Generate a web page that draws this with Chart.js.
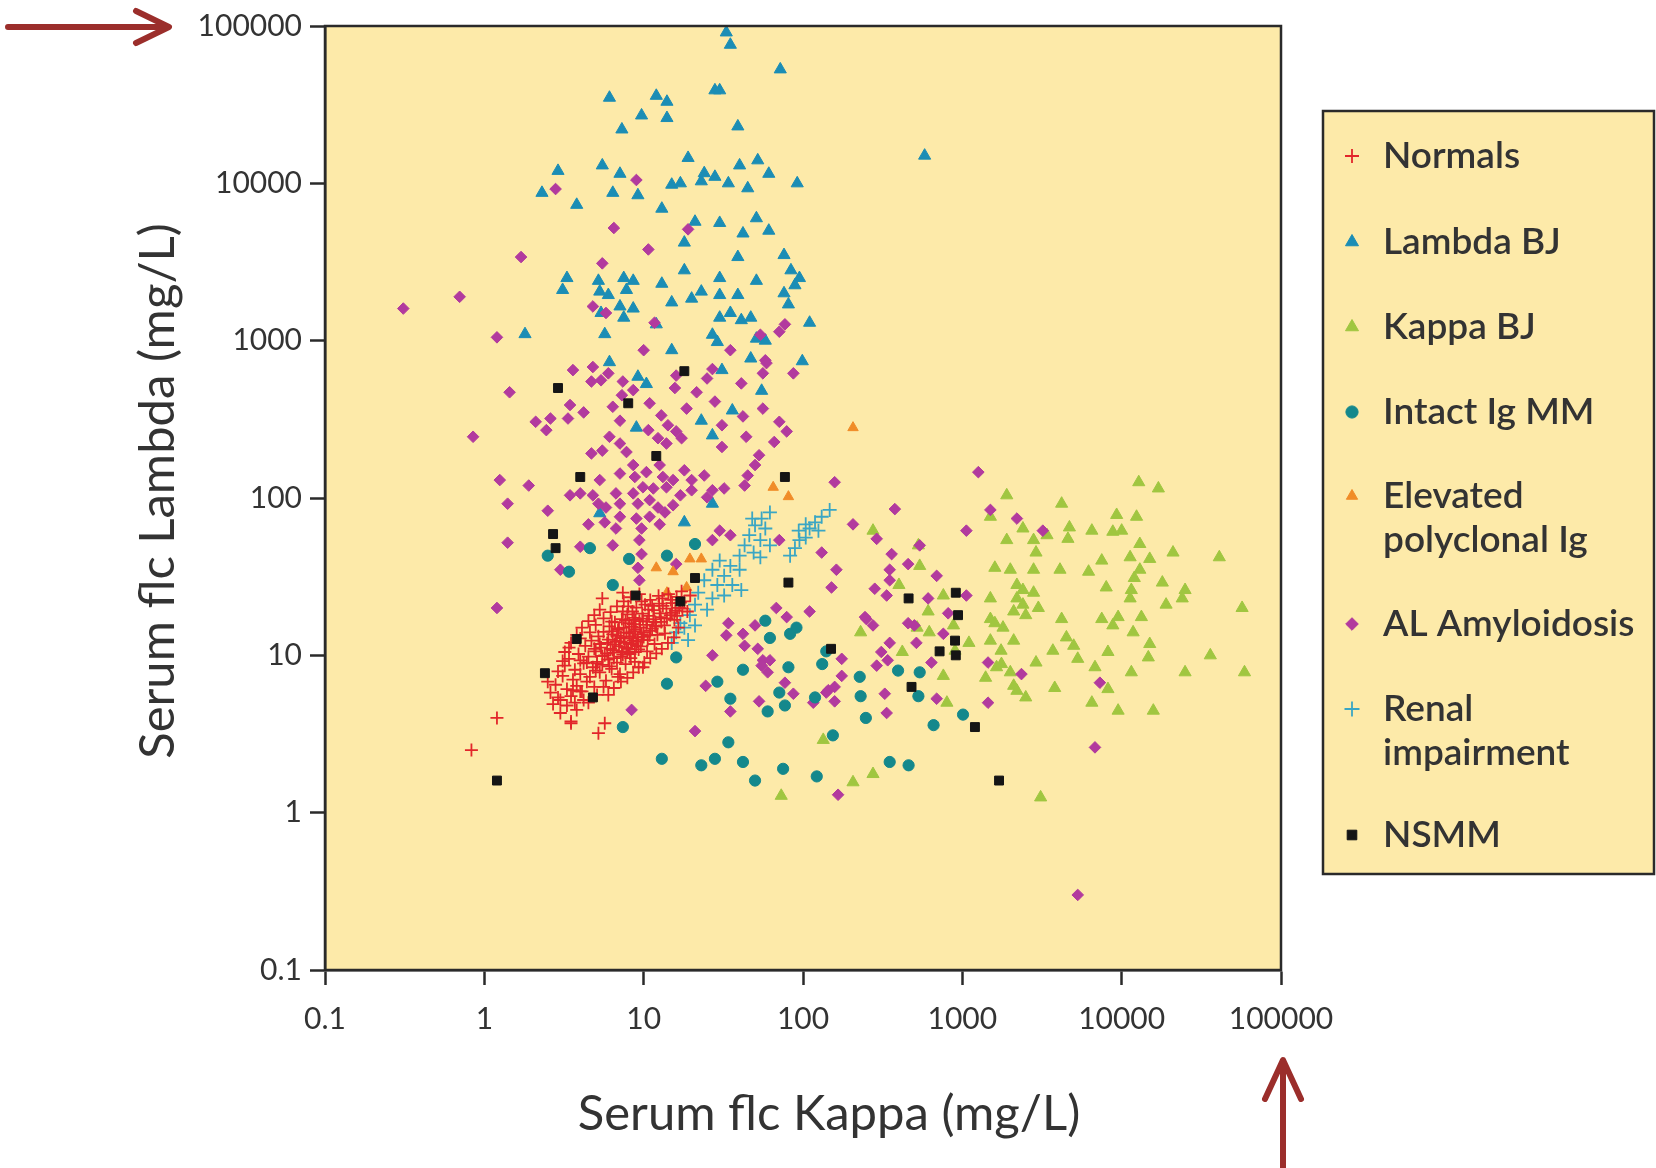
<!DOCTYPE html>
<html>
<head>
<meta charset="utf-8">
<script src="https://cdn.jsdelivr.net/npm/chart.js@4"></script>
<style>
  html, body { margin: 0; padding: 0; background: #fff; }
  #wrap { width: 1656px; height: 1168px; }
</style>
</head>
<body>
<div id="wrap"><canvas id="flc-chart" width="1656" height="1168"></canvas></div>
<script>
// decade ticks, same on both axes
const tickVals = [0.1, 1, 10, 100, 1000, 10000, 100000];

const seriesNames = ['Normals', 'Lambda BJ', 'Kappa BJ', 'Intact Ig MM', 'Elevated polyclonal Ig', 'AL Amyloidosis', 'Renal impairment', 'NSMM'];

// every point is [kappa, lambda] in mg/L
const normals = [
  [0.83, 2.5], [1.2, 4.0], [3.5, 3.7], [5.7, 3.7], [5.2, 3.2], [9.9, 8.4], [5.5, 23], [7.4, 25],
  [3.0, 4.3], [3.3, 4.8], [3.8, 4.5], [4.2, 5.2], [2.7, 4.9], [3.5, 3.8],
  [2.6, 5.8], [2.8, 6.5], [3.0, 5.2], [3.1, 7.4], [3.2, 8.6], [3.3, 6.1], [3.4, 9.5], [3.5, 5.5], [3.6, 7.0], [3.7, 8.1],
  [3.8, 6.4], [3.9, 10.2], [4.0, 7.6], [4.1, 5.9], [4.2, 8.9], [4.3, 11.5], [4.4, 6.8], [4.5, 9.8], [4.6, 7.3], [4.7, 12.4],
  [4.8, 8.4], [4.9, 6.3], [5.0, 10.6], [5.1, 9.1], [5.2, 13.2], [5.3, 7.8], [5.4, 11.2], [5.5, 8.7], [5.6, 14.1], [5.7, 10.0],
  [5.8, 6.9], [5.9, 12.0], [6.0, 9.4], [6.1, 15.3], [6.2, 11.0], [6.3, 8.2], [6.4, 13.6], [6.5, 10.4], [6.6, 16.2], [6.7, 12.3],
  [6.8, 9.0], [6.9, 14.5], [7.0, 11.4], [7.1, 7.6], [7.2, 13.0], [7.3, 17.0], [7.4, 10.1], [7.5, 15.0], [7.6, 12.0], [7.7, 8.8],
  [7.8, 14.0], [7.9, 18.2], [8.0, 11.0], [8.1, 16.0], [8.2, 13.2], [8.3, 9.6], [8.4, 15.2], [8.5, 19.0], [8.6, 12.4], [8.7, 17.3],
  [8.8, 10.5], [8.9, 14.6], [9.0, 20.1], [9.2, 13.0], [9.4, 16.5], [9.6, 11.4], [9.8, 18.4], [10.0, 14.0], [10.2, 21.0], [10.4, 15.6],
  [10.6, 12.5], [10.8, 17.8], [11.0, 22.5], [11.3, 14.8], [11.6, 19.4], [11.9, 16.2], [12.2, 13.5], [12.5, 21.3], [12.8, 17.5], [13.1, 23.0],
  [13.5, 15.5], [13.9, 19.8], [14.3, 24.5], [14.7, 18.0], [15.1, 21.5], [15.6, 16.8], [16.1, 23.5], [16.7, 20.0], [17.3, 25.5], [18.0, 22.0],
  [18.8, 19.0], [19.6, 24.0], [5.5, 9.9], [6.0, 12.6], [6.4, 10.8], [6.8, 13.3], [7.2, 9.8], [7.5, 12.8], [7.8, 11.2], [8.1, 13.8],
  [8.4, 11.8], [8.7, 14.2], [9.1, 12.2], [9.5, 15.0], [10.0, 13.1], [10.5, 16.4], [11.0, 14.3], [11.5, 17.0], [5.0, 8.0], [5.3, 11.8],
  [6.1, 8.5], [6.6, 11.7], [7.0, 14.9], [7.7, 16.6], [8.2, 10.2], [8.9, 16.8], [9.3, 10.9], [9.9, 17.1], [10.7, 19.5], [12.0, 15.2],
  [12.6, 18.5], [4.4, 9.0], [4.9, 11.0], [3.6, 6.0], [4.0, 9.3], [13.2, 20.6], [15.8, 19.2], [17.0, 21.6], [7.3, 10.6], [6.3, 14.2],
  [8.6, 15.8], [9.7, 13.6],
  [3.2, 10.5], [3.5, 12.0], [3.8, 13.5], [4.1, 15.0], [4.5, 16.5], [4.9, 18.0], [5.3, 19.5], [3.4, 11.2], [4.0, 12.8], [4.6, 14.0],
  [5.0, 15.6], [5.6, 17.2], [6.2, 18.8], [6.8, 20.5], [7.5, 22.0], [8.3, 23.4], [9.4, 24.5], [6.5, 6.2], [7.2, 6.8], [7.9, 7.2],
  [8.6, 7.8], [9.3, 8.4], [10.1, 9.0], [11.0, 9.6], [12.0, 10.3], [13.0, 11.0], [14.2, 12.0], [15.5, 13.0], [6.0, 5.6], [6.9, 7.3],
  [8.8, 9.1], [10.5, 10.6], [11.7, 11.8], [13.6, 13.8], [16.5, 15.0], [4.5, 5.0], [5.1, 5.6], [5.6, 6.3], [4.0, 5.9], [3.7, 5.0],
  [2.9, 5.4], [2.5, 6.8], [2.9, 7.9], [3.1, 9.2], [5.1, 8.9], [5.9, 10.3], [6.5, 9.6], [7.1, 12.2], [7.9, 10.5], [8.5, 12.8],
  [9.0, 11.5], [9.8, 12.6], [10.9, 13.4], [11.8, 15.4], [12.9, 16.3], [14.0, 17.2], [15.0, 18.6], [16.2, 17.8], [17.5, 19.8], [6.3, 16.4],
  [7.4, 19.0], [8.0, 20.5], [9.7, 22.0], [11.3, 20.6], [12.4, 23.9], [14.8, 22.5]
];

const lambdaBJ = [
  [33, 91000], [35, 76000], [72, 53000], [28, 39000], [30, 39000], [6.1, 35000], [12, 36000], [14, 33000], [9.7, 27000], [14, 26000],
  [7.3, 22000], [39, 23000], [580, 15000], [2.9, 12000], [5.5, 13000], [7.1, 11500], [19, 14500], [40, 13000], [52, 14000], [61, 11500],
  [2.3, 8700], [3.8, 7300], [6.4, 8700], [9.2, 8400], [15, 9800], [17, 10000], [23, 10300], [24, 11600], [28, 11000], [34, 10000],
  [45, 9300], [92, 10000], [13, 6900], [21, 5700], [30, 5600], [51, 6000], [42, 4800], [61, 5000], [18, 4200], [39, 3400],
  [76, 3500], [18, 2800], [84, 2800], [3.3, 2500], [3.1, 2100], [5.2, 2400], [5.3, 2050], [6.0, 1950], [7.5, 2500], [8.6, 2400],
  [7.8, 2100], [13, 2300], [30, 2500], [51, 2400], [95, 2500], [89, 2250], [15, 1750], [20, 1850], [23, 2050], [30, 1950],
  [39, 1950], [76, 2000], [81, 1700], [5.4, 1500], [7.1, 1650], [8.6, 1600], [7.5, 1400], [30, 1400], [35, 1500], [41, 1350],
  [47, 1400], [110, 1300], [1.8, 1100], [5.7, 1100], [12, 1270], [27, 1090], [29, 980], [51, 1030], [58, 1000], [15, 870],
  [6.1, 730], [9.2, 590], [10.4, 530], [31, 650], [47, 770], [99, 740], [55, 480], [36, 360], [23, 310], [27, 250],
  [9.0, 280], [27, 92], [18, 70], [5.3, 80]
];

const kappaBJ = [
  [12800, 126], [17000, 115], [1900, 104], [4200, 92], [9300, 78], [12400, 76], [1500, 76], [275, 62], [2400, 64], [4700, 65],
  [6500, 62], [8800, 61], [10000, 62], [3400, 58], [4600, 55], [2800, 54], [1900, 54], [13000, 51], [530, 50], [2900, 45],
  [21000, 45], [41000, 42], [11300, 42], [15000, 41], [7500, 40], [540, 37], [1600, 36], [2000, 35], [2800, 35], [4100, 35],
  [6200, 34], [13000, 35], [12000, 31], [2200, 28], [18000, 29], [400, 28], [2400, 26], [2800, 25], [8000, 27], [11500, 26],
  [25000, 26], [2200, 23], [1500, 23], [11300, 23], [24000, 23], [760, 24], [2400, 21], [3000, 20], [19000, 21], [57000, 20],
  [610, 19], [2100, 19], [2500, 18], [1500, 17], [4200, 17], [7500, 17], [9500, 17.5], [13300, 17.5], [1600, 16], [1800, 15],
  [8800, 15.5], [230, 14], [520, 15], [620, 14], [880, 15.5], [11800, 14], [1500, 12.4], [2100, 12.4], [4500, 13], [1100, 12],
  [5000, 11.5], [15000, 11.8], [420, 10.5], [1750, 10.7], [3700, 10.7], [8200, 10.5], [36000, 10], [900, 10.7], [5300, 9.5], [2900, 9.0],
  [14700, 9.7], [6800, 8.4], [1640, 8.4], [1760, 8.8], [760, 7.4], [1400, 7.2], [2000, 7.8], [11500, 7.8], [25000, 7.8], [59000, 7.8],
  [2100, 6.4], [3800, 6.2], [8200, 6.1], [2200, 5.95], [2500, 5.4], [800, 5.0], [6500, 5.0], [9500, 4.45], [15800, 4.45], [134, 2.9],
  [275, 1.76], [206, 1.56], [3100, 1.25], [73, 1.28]
];

const intactMM = [
  [2.5, 43], [3.4, 34], [4.6, 48], [8.1, 41], [14, 43], [21, 51], [6.4, 28], [16, 9.7], [14, 6.6], [7.4, 3.5],
  [13, 2.2], [23, 2.0], [28, 2.2], [34, 2.8], [42, 2.1], [50, 1.6], [75, 1.9], [122, 1.7], [154, 3.1], [42, 8.1],
  [29, 6.8], [35, 5.3], [58, 16.6], [62, 12.9], [83, 13.7], [91, 15], [81, 8.4], [71, 5.8], [77, 4.8], [60, 4.4],
  [119, 5.4], [132, 8.8], [140, 10.6], [227, 7.3], [230, 5.5], [248, 4.0], [395, 8.0], [540, 7.8], [530, 5.5], [660, 3.6],
  [1010, 4.2], [350, 2.1], [460, 2.0]
];

const elevatedIg = [[206, 280], [65, 117], [81, 102], [19.5, 41], [23, 41], [12, 36], [15.3, 34], [14, 25], [18.6, 27]];

const amyloid = [
  [2.8, 9200], [9.0, 10500], [6.5, 5200], [19, 5100], [10.7, 3800], [1.7, 3400], [5.5, 3100], [0.70, 1900], [0.31, 1600], [4.8, 1650],
  [1.2, 1050], [5.8, 1500], [11.7, 1300], [10, 870], [35, 870], [54, 1090], [77, 1270], [71, 1140], [58, 750], [1.44, 470],
  [0.85, 245], [3.6, 650], [4.8, 680], [6.0, 620], [4.7, 550], [5.4, 560], [7.4, 550], [8.6, 485], [7.3, 450], [10.9, 400],
  [12.9, 335], [15.7, 500], [16, 600], [21.5, 470], [18.6, 370], [28, 410], [25, 575], [27, 660], [41, 535], [59, 720],
  [56, 620], [56, 370], [42, 330], [31, 290], [71, 305], [79, 265], [87, 620], [66, 227], [44, 245], [31, 211],
  [53, 187], [50, 162], [45, 139], [43, 120], [158, 126], [2.1, 305], [2.45, 270], [2.6, 320], [3.35, 320], [3.45, 390],
  [4.2, 350], [6.4, 380], [7.1, 310], [10.7, 270], [12.3, 240], [14.2, 290], [16, 265], [17.3, 240], [13.9, 222], [6.1, 245],
  [7.1, 222], [7.8, 196], [4.7, 192], [5.5, 200], [8.6, 162], [7.1, 143], [8.8, 136], [10.4, 146], [12.6, 162], [13.2, 136],
  [15.3, 130], [18, 150], [20, 130], [24, 139], [27, 112], [32, 115], [25, 101], [20, 112], [17, 104], [13.9, 117],
  [11.5, 115], [9.9, 117], [8.6, 107], [6.7, 107], [5.3, 130], [4.8, 104], [4.0, 107], [3.45, 104], [5.2, 92], [5.8, 87],
  [7.1, 92], [9.2, 92], [10.9, 97], [12.3, 87], [13.6, 81], [15.3, 90], [10.9, 76], [9.0, 74], [7.1, 76], [5.7, 70],
  [4.5, 68], [6.7, 64], [9.7, 64], [12.6, 68], [1.9, 120], [1.25, 130], [1.4, 92], [2.5, 83], [1.4, 52], [4.0, 49],
  [9.4, 54], [9.7, 44], [9.2, 36], [9.4, 30], [1.2, 20], [27, 54], [30, 62], [35, 58], [71, 54], [131, 45],
  [206, 68], [377, 85], [360, 44], [457, 38], [350, 35], [162, 35], [151, 27], [350, 30], [282, 26.5], [245, 17.5],
  [275, 15.5], [110, 19], [68, 20], [79, 17.5], [610, 23], [457, 16], [34, 16], [42, 13.7], [1260, 146], [1500, 84],
  [2200, 74], [3200, 62], [1060, 62], [290, 55], [540, 50], [690, 32], [335, 24], [1060, 24], [815, 18.5], [250, 17],
  [500, 15.5], [515, 12], [760, 13.7], [350, 12], [310, 10.5], [340, 9.3], [175, 9.5], [290, 8.6], [640, 9.0], [175, 7.4],
  [144, 6.0], [158, 5.1], [326, 5.7], [335, 4.3], [690, 5.3], [1450, 9.0], [2350, 7.6], [1450, 5.0], [7300, 6.7], [6800, 2.6],
  [166, 1.3], [5300, 0.30], [27, 10], [24.5, 6.4], [8.4, 4.5], [21, 3.3], [33, 13.4], [50, 15.5], [43, 11.5], [52, 11],
  [56, 9.3], [62, 9.3], [60, 7.8], [77, 6.7], [87, 5.7], [53, 5.1], [35, 4.4], [116, 5.0], [140, 5.8], [158, 6.3],
  [6.4, 50], [16, 38], [3.0, 35], [55, 8.6]
];

const renal = [
  [147, 84], [131, 76], [119, 70], [110, 64], [104, 56], [95, 54], [89, 48], [83, 43], [104, 68], [125, 62],
  [94, 62], [62, 81], [55, 74], [58, 64], [50, 67], [46, 58], [54, 54], [43, 50], [62, 50], [49, 45],
  [40, 43], [54, 42], [48, 74], [30, 40], [35, 37], [27, 35], [32, 32], [40, 35], [24, 30], [29, 28],
  [36, 28], [22, 25], [27, 23], [32, 24], [41, 26], [21, 21], [25, 19.5], [19.5, 18], [17, 16], [18, 15],
  [16, 14], [21, 15.5], [15, 12], [19, 12.5]
];

const nsmm = [
  [2.9, 500], [8.0, 400], [18, 640], [12, 185], [4.0, 136], [77, 136], [2.7, 59], [2.8, 48], [21, 31], [81, 29],
  [8.9, 24], [17, 22], [3.8, 12.7], [2.4, 7.7], [4.8, 5.4], [1.2, 1.6], [150, 11], [480, 6.3], [460, 23], [910, 25],
  [940, 18], [900, 12.4], [910, 10], [720, 10.6], [1200, 3.5], [1700, 1.6]
];

const plotBg = '#fdeaa9';
const inkColor = '#2a2a2a';
const textColor = '#333333';
const fontFamily = 'Lato, "Open Sans", sans-serif';

// look of each series, legend order
const looks = [
  { data: normals,    color: '#e2262a', style: 'cross',    radius: 6.5, border: 1.8, order: 1 },
  { data: lambdaBJ,   color: '#1b8db5', style: 'triangle', radius: 7,   border: 1,   order: 7 },
  { data: kappaBJ,    color: '#a0c640', style: 'triangle', radius: 7,   border: 1,   order: 6 },
  { data: intactMM,   color: '#14888c', style: 'circle',   radius: 5.6, border: 1,   order: 4 },
  { data: elevatedIg, color: '#f08c28', style: 'triangle', radius: 6,   border: 1,   order: 3 },
  { data: amyloid,    color: '#b23a9e', style: 'rectRot',  radius: 5.8, border: 1,   order: 5 },
  { data: renal,      color: '#3aa6c4', style: 'cross',    radius: 7,   border: 1.8, order: 2 },
  { data: nsmm,       color: '#151515', style: 'rect',     radius: 6.3, border: 1,   order: 0 }
];

const legendLines = [['Normals'], ['Lambda BJ'], ['Kappa BJ'], ['Intact Ig MM'], ['Elevated', 'polyclonal Ig'], ['AL Amyloidosis'], ['Renal', 'impairment'], ['NSMM']];
const legendRowY = [156, 242, 327, 412, 496, 624, 709, 835];

const datasets = looks.map((s, i) => ({
  label: seriesNames[i],
  data: s.data.map(p => ({ x: p[0], y: p[1] })),
  pointStyle: s.style,
  pointRadius: s.radius,
  pointBorderWidth: s.border,
  backgroundColor: s.color,
  borderColor: s.color,
  order: s.order
}));

// plot background, frame, legend, titles and the two red arrows
const decorations = {
  id: 'decorations',
  beforeDraw(chart) {
    const { ctx, chartArea: a } = chart;
    ctx.save();
    ctx.fillStyle = plotBg;
    ctx.fillRect(a.left, a.top, a.right - a.left, a.bottom - a.top);
    ctx.restore();
  },
  afterDraw(chart) {
    const { ctx, chartArea: a } = chart;
    ctx.save();
    ctx.strokeStyle = inkColor;
    ctx.lineWidth = 2.5;
    ctx.strokeRect(a.left, a.top, a.right - a.left, a.bottom - a.top);

    // axis titles
    ctx.fillStyle = textColor;
    ctx.font = '49px ' + fontFamily;
    ctx.textAlign = 'center';
    ctx.textBaseline = 'middle';
    ctx.fillText('Serum flc Kappa (mg/L)', 829, 1114);
    ctx.save();
    ctx.translate(158, 491);
    ctx.rotate(-Math.PI / 2);
    ctx.fillText('Serum flc Lambda (mg/L)', 0, 0);
    ctx.restore();

    // legend box
    ctx.fillStyle = plotBg;
    ctx.fillRect(1323, 111, 331, 763);
    ctx.strokeStyle = inkColor;
    ctx.lineWidth = 2.5;
    ctx.strokeRect(1323, 111, 331, 763);
    ctx.font = '600 37px ' + fontFamily;
    ctx.textAlign = 'left';
    looks.forEach((s, i) => {
      const y = legendRowY[i];
      ctx.fillStyle = s.color;
      ctx.strokeStyle = s.color;
      ctx.lineWidth = s.border;
      Chart.helpers.drawPoint(ctx, { pointStyle: s.style, radius: s.radius + 0.5, rotation: 0, borderWidth: s.border }, 1352, y);
      ctx.fillStyle = textColor;
      legendLines[i].forEach((line, k) => ctx.fillText(line, 1383, y + k * 44));
    });

    // red arrows
    ctx.strokeStyle = '#9b2e2b';
    ctx.lineWidth = 6;
    ctx.lineCap = 'round';
    ctx.lineJoin = 'round';
    ctx.beginPath();
    ctx.moveTo(8, 27); ctx.lineTo(166, 27);
    ctx.moveTo(136, 11); ctx.lineTo(169, 27); ctx.lineTo(136, 43);
    ctx.moveTo(1283, 1168); ctx.lineTo(1283, 1062);
    ctx.moveTo(1265, 1099); ctx.lineTo(1283, 1060); ctx.lineTo(1301, 1099);
    ctx.stroke();
    ctx.restore();
  }
};

function logAxis(fitSide) {
  return {
    type: 'logarithmic',
    min: tickVals[0],
    max: tickVals[tickVals.length - 1],
    afterBuildTicks: s => { s.ticks = tickVals.map(v => ({ value: v })); },
    afterFit: fitSide,
    ticks: {
      callback: v => String(v),
      font: { family: fontFamily, size: 30 },
      color: textColor,
      autoSkip: false,
      maxRotation: 0,
      padding: 8
    },
    grid: { drawOnChartArea: false, drawTicks: true, tickLength: 15, tickColor: inkColor, tickWidth: 2.5 },
    border: { display: true, color: inkColor, width: 2.5 }
  };
}

const xAxis = logAxis(s => { s.height = 198; });
xAxis.ticks.padding = 16;
const yAxis = logAxis(s => { s.width = 325; });

new Chart(document.getElementById('flc-chart'), {
  type: 'scatter',
  data: { datasets },
  options: {
    responsive: false,
    animation: false,
    devicePixelRatio: 1,
    layout: { padding: { top: 26, right: 375, left: 0, bottom: 0 } },
    plugins: { legend: { display: false }, tooltip: { enabled: false } },
    scales: { x: xAxis, y: yAxis }
  },
  plugins: [decorations]
});
</script>
</body>
</html>
